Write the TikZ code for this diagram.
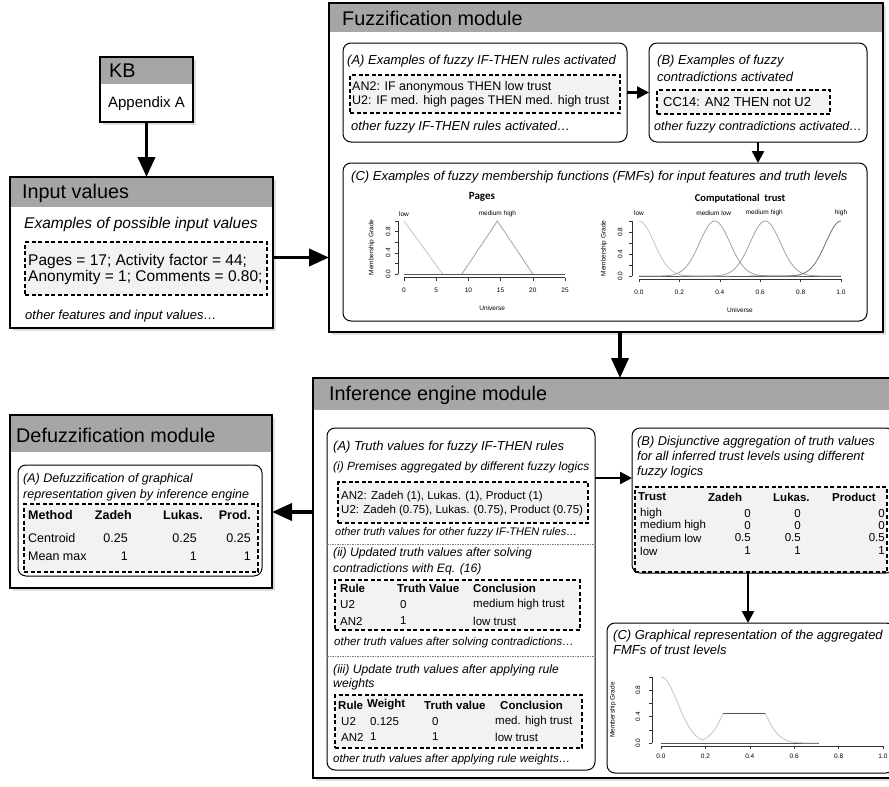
\documentclass[tikz,border=0pt]{standalone}
\usepackage{fontspec}
\setmainfont{Liberation Sans}
\newfontfamily\plotfont{Carlito}
\usetikzlibrary{arrows.meta,shadows}
\definecolor{headgray}{HTML}{A6A6A6}
\definecolor{boxgray}{HTML}{F2F2F2}
\definecolor{curvelight}{HTML}{C4C4C4}
\definecolor{curvemid}{HTML}{A2A2A2}
\definecolor{curvedark}{HTML}{707070}
\definecolor{basegray}{HTML}{555555}
\newcommand{\fsz}[1]{\fontsize{#1}{#1}\selectfont}
\newcommand{\link}[2]{
  \draw [flow] (#1) -- (#2)
}
\newcommand{\biglink}[2]{
  \draw [bigflow] (#1) -- (#2)
}
\tikzset{
  module/.style={draw, line width=1.8pt, fill=white, anchor=north west, outer sep=0pt, inner sep=0pt,
    drop shadow={opacity=0.25, shadow xshift=2.5pt, shadow yshift=-2.5pt}},
  modframe/.style={line width=1.8pt},
  sub/.style={draw, line width=1pt, rounded corners=8pt, fill=white, anchor=north west, outer sep=0pt, inner sep=0pt},
  dbox/.style={draw, line width=1.1pt, dash pattern=on 4pt off 2.5pt, fill=boxgray, anchor=north west, outer sep=0pt, inner sep=0pt},
  ttl/.style={anchor=west, inner sep=0pt, font=\fsz{19.8}},
  txt/.style={anchor=west, inner sep=0pt, font=\fsz{12}},
  itx/.style={anchor=west, inner sep=0pt, font=\fsz{13}\itshape},
  num/.style={anchor=east, inner sep=0pt, font=\fsz{11.5}},
  hdr/.style={anchor=west, inner sep=0pt, font=\fsz{11.5}\bfseries},
  divider/.style={gray, line width=0.5pt, dash pattern=on 1.5pt off 1pt},
  flow/.style={line width=2.4pt, -{Triangle[length=12pt,width=12pt]}},
  bigflow/.style={line width=3.8pt, -{Triangle[length=20pt,width=17pt]}},
  axisline/.style={line width=0.5pt, black!80},
  ticklab/.style={inner sep=0pt, font=\fsz{6.5}},
  plotlab/.style={inner sep=0pt, font=\fsz{6.5}},
  plottitle/.style={inner sep=0pt, font=\plotfont\bfseries\fsz{11}},
  lowc/.style={curvelight, line width=0.8pt},
  midc/.style={curvemid, line width=0.8pt},
  darkc/.style={curvedark, line width=0.8pt},
  basec/.style={basegray, line width=0.8pt},
}

\begin{document}
\begin{tikzpicture}[x=1pt, y=-1pt]
\useasboundingbox (0,0) rectangle (889,787);

% knowledge base
\node[module, minimum width=93pt, minimum height=65pt] (kb) at (100,57) {};
\fill[headgray] (kb.north west) rectangle ([yshift=-27pt]kb.north east);
\draw[modframe] (kb.north west) rectangle (kb.south east);
\node[ttl] (kb-t) at (109,71) {KB};
\node[anchor=center, inner sep=0pt, font=\fsz{15}] (kb-a) at (146.5,104) {Appendix A};

% input values
\node[module, minimum width=263pt, minimum height=151pt] (inp) at (10,177) {};
\fill[headgray] (inp.north west) rectangle ([yshift=-30pt]inp.north east);
\draw[modframe] (inp.north west) rectangle (inp.south east);
\node[ttl] (inp-t) at (22,193) {Input values};
\node[itx, font=\fsz{15.5}\itshape] (inp-e) at (24,224) {Examples of possible input values};
\node[dbox, minimum width=242pt, minimum height=53pt] (inp-d) at (25,242) {};
\node[txt, font=\fsz{15.5}] (inp-1) at (28,261) {Pages = 17; Activity factor = 44;};
\node[txt, font=\fsz{15.5}] (inp-2) at (28,277) {Anonymity = 1; Comments = 0.80;};
\node[itx, font=\fsz{13}\itshape] (inp-o) at (25,316) {other features and input values…};

% fuzzification module
\node[module, minimum width=554pt, minimum height=329pt] (fuz) at (329,3) {};
\fill[headgray] (fuz.north west) rectangle ([yshift=-29pt]fuz.north east);
\draw[modframe] (fuz.north west) rectangle (fuz.south east);
\node[ttl] (fuz-t) at (342,18) {Fuzzification module};

% fuzzification (A)
\node[sub, minimum width=284pt, minimum height=99pt] (fa) at (343,43) {};
\node[itx] (fa-t) at (347,61) {(A) Examples of fuzzy IF-THEN rules activated};
\node[dbox, minimum width=270pt, minimum height=38pt] (fa-d) at (350,75) {};
\node[txt, font=\fsz{12.5}] (fa-1) at (352,87) {AN2: IF anonymous THEN low trust};
\node[txt, font=\fsz{12.5}] (fa-2) at (352,101) {U2: IF med. high pages THEN med. high trust};
\node[itx] (fa-o) at (351,127) {other fuzzy IF-THEN rules activated…};

% fuzzification (B)
\node[sub, minimum width=218pt, minimum height=99pt] (fb) at (649,43) {};
\node[itx] (fb-t1) at (657,61) {(B) Examples of fuzzy};
\node[itx] (fb-t2) at (657,77) {contradictions activated};
\node[dbox, minimum width=173pt, minimum height=24pt] (fb-d) at (657,90) {};
\node[txt, font=\fsz{13}] (fb-1) at (663,102) {CC14: AN2 THEN not U2};
\node[itx, font=\fsz{12.5}\itshape] (fb-o) at (654,127) {other fuzzy contradictions activated…};

% fuzzification (C)
\node[sub, minimum width=524pt, minimum height=158pt] (fc) at (343,163) {};
\node[itx] (fc-t) at (351,177) {(C) Examples of fuzzy membership functions (FMFs) for input features and truth levels};

% plot of pages
\begin{scope}[shift={(404,274)}, x=6.44pt, y=53pt]
  \draw[basec] (0,0) -- (25,0);
  \draw[lowc] (0,1) -- (6,0);
  \draw[midc] (9,0) -- (14.5,1) -- (20,0);
  \draw[axisline] (0,-0.07) -- (25,-0.07);
  \foreach \t in {0,5,...,25} {
    \draw[axisline] (\t,-0.07) -- ++(0,-3pt);
    \node[ticklab] (pg-x\t) at (\t,-0.31) {\t};
  }
  \draw[axisline] (-0.93,0) -- (-0.93,1);
  \foreach \t in {0,0.2,...,1.0} {
    \draw[axisline] (-0.93,\t) -- ++(-3pt,0);
  }
  \foreach \t/\l in {0/0.0,0.4/0.4,0.8/0.8} {
    \node[ticklab, rotate=90] (pg-y\l) at (-2.45,\t) {\l};
  }
  \node[plotlab, rotate=90] (pg-mg) at (-5.0,0.5) {Membership Grade};
  \node[plottitle] (pg-t) at (12.1,1.45) {Pages};
  \node[plotlab] (pg-low) at (0,1.13) {low};
  \node[plotlab] (pg-mh) at (14.5,1.13) {medium high};
  \node[plotlab] (pg-u) at (13.7,-0.64) {Universe};
\end{scope}

% plot of computational trust
\begin{scope}[shift={(639,276)}, x=202pt, y=55pt]
  \draw[basec] (0,0) -- (1,0);
  \draw[lowc] plot[domain=0:0.45, samples=50, smooth] (\x, {exp(-(\x*\x)/0.01125)});
  \draw[midc] plot[domain=0:0.8, samples=80, smooth] (\x, {exp(-((\x-0.375)*(\x-0.375))/0.01125)});
  \draw[midc] plot[domain=0.2:1, samples=80, smooth] (\x, {exp(-((\x-0.625)*(\x-0.625))/0.01125)});
  \draw[darkc] plot[domain=0.55:1, samples=50, smooth] (\x, {exp(-((\x-1)*(\x-1))/0.01125)});
  \draw[axisline] (0,-0.055) -- (1,-0.055);
  \foreach \t/\l in {0/0.0,0.2/0.2,0.4/0.4,0.6/0.6,0.8/0.8,1/1.0} {
    \draw[axisline] (\t,-0.055) -- ++(0,-3pt);
    \node[ticklab] (ct-x\l) at (\t,-0.29) {\l};
  }
  \draw[axisline] (-0.035,0) -- (-0.035,1);
  \foreach \t in {0,0.2,...,1.0} {
    \draw[axisline] (-0.035,\t) -- ++(-3pt,0);
  }
  \foreach \t/\l in {0/0.0,0.4/0.4,0.8/0.8} {
    \node[ticklab, rotate=90] (ct-y\l) at (-0.094,\t) {\l};
  }
  \node[plotlab, rotate=90] (ct-mg) at (-0.173,0.5) {Membership Grade};
  \node[plottitle, font=\plotfont\bfseries\fsz{10.5}] (ct-t) at (0.5,1.4) {Computational\ \ trust};
  \node[plotlab] (ct-low) at (0,1.145) {low};
  \node[plotlab] (ct-ml) at (0.37,1.145) {medium low};
  \node[plotlab] (ct-mh) at (0.62,1.145) {medium high};
  \node[plotlab] (ct-high) at (1,1.145) {high};
  \node[plotlab] (ct-u) at (0.5,-0.62) {Universe};
\end{scope}

% inference engine module
\node[module, minimum width=582pt, minimum height=400pt] (inf) at (313,378) {};
\fill[headgray] (inf.north west) rectangle ([yshift=-32pt]inf.north east);
\draw[modframe] (inf.north west) rectangle (inf.south east);
\node[ttl] (inf-t) at (329,395) {Inference engine module};

% inference (A)
\node[sub, minimum width=268pt, minimum height=342pt] (ia) at (327,428) {};
\node[itx] (ia-t) at (333,447) {(A) Truth values for fuzzy IF-THEN rules};
\node[itx, font=\fsz{12}\itshape] (ia-i) at (333,467) {(i) Premises aggregated by different fuzzy logics};
\node[dbox, minimum width=250pt, minimum height=41pt] (ia-d1) at (338,482) {};
\node[txt, font=\fsz{11.5}] (ia-11) at (341,497) {AN2: Zadeh (1), Lukas. (1), Product (1)};
\node[txt, font=\fsz{11.5}] (ia-12) at (341,511) {U2: Zadeh (0.75), Lukas. (0.75), Product (0.75)};
\node[itx, font=\fsz{11}\itshape] (ia-o1) at (335,533) {other truth values for other fuzzy IF-THEN rules…};
\draw[divider] (327,544) -- (595,544);
\node[itx, font=\fsz{12.2}\itshape] (ia-ii1) at (333,553) {(ii) Updated truth values after solving};
\node[itx, font=\fsz{12.2}\itshape] (ia-ii2) at (333,569) {contradictions with Eq. (16)};
\node[dbox, minimum width=245pt, minimum height=50pt] (ia-d2) at (335,580) {};
\node[hdr] (t2-h1) at (340,588) {Rule};
\node[hdr] (t2-h2) at (397,588) {Truth Value};
\node[hdr] (t2-h3) at (473,588) {Conclusion};
\foreach \r/\v/\c/\yy [count=\i] in {U2/0/medium high trust/605, AN2/1/low trust/621} {
  \node[txt, font=\fsz{11.5}] (t2-\i-r) at (340,\yy) {\r};
  \node[txt, font=\fsz{11.5}] (t2-\i-v) at (400,\yy) {\v};
  \node[txt, font=\fsz{11.5}] (t2-\i-c) at (473,\yy) {\c};
}
\node[itx, font=\fsz{11.5}\itshape] (ia-o2) at (334,643) {other truth values after solving contradictions…};
\draw[divider] (327,656) -- (595,656);
\node[itx, font=\fsz{12.2}\itshape] (ia-iii1) at (333,670) {(iii) Update truth values after applying rule};
\node[itx, font=\fsz{12.2}\itshape] (ia-iii2) at (333,684) {weights};
\node[dbox, minimum width=247pt, minimum height=53pt] (ia-d3) at (335,695) {};
\node[hdr] (t3-h1) at (338,705) {Rule};
\node[hdr] (t3-h2) at (367,705) {Weight};
\node[hdr] (t3-h3) at (424,705) {Truth value};
\node[hdr] (t3-h4) at (500,705) {Conclusion};
\foreach \r/\w/\v/\c/\yy [count=\i] in {U2/0.125/0/med. high trust/722, AN2/1/1/low trust/737} {
  \node[txt, font=\fsz{11.5}] (t3-\i-r) at (341,\yy) {\r};
  \node[txt, font=\fsz{11.5}] (t3-\i-w) at (370,\yy) {\w};
  \node[txt, font=\fsz{11.5}] (t3-\i-v) at (432,\yy) {\v};
  \node[txt, font=\fsz{11.5}] (t3-\i-c) at (495,\yy) {\c};
}
\node[itx, font=\fsz{11.5}\itshape] (ia-o3) at (333,760) {other truth values after applying rule weights…};

% inference (B)
\node[sub, minimum width=262pt, minimum height=145pt] (ib) at (632,428) {};
\node[itx, font=\fsz{12.8}\itshape] (ib-t1) at (637,442) {(B) Disjunctive aggregation of truth values};
\node[itx, font=\fsz{12.8}\itshape] (ib-t2) at (637,457) {for all inferred trust levels using different};
\node[itx, font=\fsz{12.8}\itshape] (ib-t3) at (637,472) {fuzzy logics};
\node[dbox, minimum width=252pt, minimum height=85pt] (ib-d) at (635,487) {};
\node[hdr] (tb-h1) at (638,497) {Trust};
\node[hdr] (tb-h2) at (708,497) {Zadeh};
\node[hdr] (tb-h3) at (773,497) {Lukas.};
\node[hdr] (tb-h4) at (832,497) {Product};
\foreach \lv/\za/\lu/\pr/\yy [count=\i] in {high/0/0/0/514, medium high/0/0/0/526, medium low/0.5/0.5/0.5/538, low/1/1/1/551} {
  \node[txt, font=\fsz{11.5}] (tb-\i-l) at (640,\yy) {\lv};
  \node[num] (tb-\i-z) at (751,\yy) {\za};
  \node[num] (tb-\i-u) at (801,\yy) {\lu};
  \node[num] (tb-\i-p) at (885,\yy) {\pr};
}

% inference (C)
\node[sub, minimum width=287pt, minimum height=150pt] (ic) at (607,623) {};
\node[itx] (ic-t1) at (613,636) {(C) Graphical representation of the aggregated};
\node[itx] (ic-t2) at (613,650) {FMFs of trust levels};

% plot of aggregated trust levels
\begin{scope}[shift={(661,743)}, x=222pt, y=66pt]
  \draw[basec] (0,0) -- (0.71,0);
  \draw[lowc] plot[domain=0:0.1875, samples=30, smooth] (\x, {exp(-(\x*\x)/0.01125)})
    -- plot[domain=0.1875:0.28, samples=20, smooth] (\x, {exp(-((\x-0.375)*(\x-0.375))/0.01125)})
    -- (0.47,0.45)
    -- plot[domain=0.47:0.71, samples=40, smooth] (\x, {exp(-((\x-0.375)*(\x-0.375))/0.01125)});
  \draw[basec] (0.28,0.45) -- (0.47,0.45);
  \draw[axisline] (0,-0.045) -- (1,-0.045);
  \foreach \t/\l in {0/0.0,0.2/0.2,0.4/0.4,0.6/0.6,0.8/0.8,1/1.0} {
    \draw[axisline] (\t,-0.045) -- ++(0,-3pt);
    \node[ticklab] (ag-x\l) at (\t,-0.2) {\l};
  }
  \draw[axisline] (-0.04,0) -- (-0.04,1);
  \foreach \t in {0,0.2,...,1.0} {
    \draw[axisline] (-0.04,\t) -- ++(-3pt,0);
  }
  \foreach \t/\l in {0/0.0,0.4/0.4,0.8/0.8} {
    \node[ticklab, rotate=90] (ag-y\l) at (-0.104,\t) {\l};
  }
  \node[plotlab, rotate=90] (ag-mg) at (-0.216,0.5) {Membership Grade};
\end{scope}

% defuzzification module
\node[module, minimum width=262pt, minimum height=173pt] (def) at (10,415) {};
\fill[headgray] (def.north west) rectangle ([yshift=-37pt]def.north east);
\draw[modframe] (def.north west) rectangle (def.south east);
\node[ttl] (def-t) at (16,435) {Defuzzification module};
\node[sub, minimum width=244pt, minimum height=111pt] (da) at (18,465) {};
\node[itx, font=\fsz{12.5}\itshape] (da-t1) at (23,479) {(A) Defuzzification of graphical};
\node[itx, font=\fsz{12.5}\itshape] (da-t2) at (23,495) {representation given by inference engine};
\node[dbox, minimum width=234pt, minimum height=68pt] (da-d) at (24,504) {};
\node[hdr, font=\fsz{12.5}\bfseries] (td-h1) at (28,515) {Method};
\node[hdr, font=\fsz{12.5}\bfseries, anchor=east] (td-h2) at (132,515) {Zadeh};
\node[hdr, font=\fsz{12.5}\bfseries, anchor=east] (td-h3) at (203,515) {Lukas.};
\node[hdr, font=\fsz{12.5}\bfseries, anchor=east] (td-h4) at (251,515) {Prod.};
\foreach \m/\za/\lu/\pr/\yy [count=\i] in {Centroid/0.25/0.25/0.25/538, Mean max/1/1/1/556} {
  \node[txt, font=\fsz{12.5}] (td-\i-m) at (28,\yy) {\m};
  \node[num, font=\fsz{12.5}] (td-\i-z) at (128,\yy) {\za};
  \node[num, font=\fsz{12.5}] (td-\i-u) at (197,\yy) {\lu};
  \node[num, font=\fsz{12.5}] (td-\i-p) at (251,\yy) {\pr};
}

% connect modules
\coordinate (inp-out) at ([yshift=-5pt]inp.east);
\coordinate (fuz-out) at ([xshift=14pt]fuz.south);
\coordinate (inf-out) at ([yshift=-134pt]inf.north west);
\biglink {kb.south} {kb.south |- inp.north};
\biglink {inp-out} {inp-out -| fuz.west};
\biglink {fuz-out} {fuz-out |- inf.north};
\biglink {inf-out} {inf-out -| def.east};

% connect sub boxes
\coordinate (ia-out) at ([yshift=-50pt]ia.north east);
\coordinate (ib-out) at ([xshift=-15pt]ib.south);
\link {fa.east} {fa.east -| fb.west};
\link {fb.south} {fb.south |- fc.north};
\link {ia-out} {ia-out -| ib.west};
\link {ib-out} {ib-out |- ic.north};

\end{tikzpicture}
\end{document}
